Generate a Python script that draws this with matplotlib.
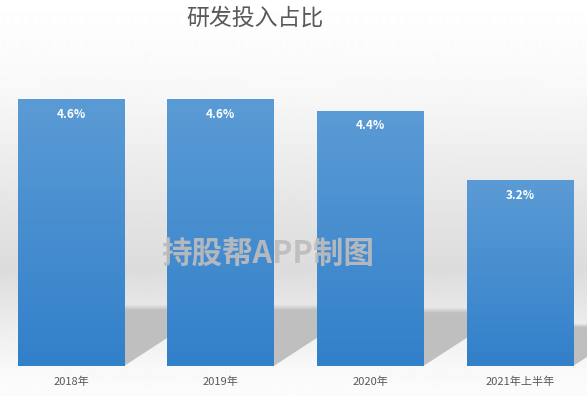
import numpy as np
import matplotlib
matplotlib.use('Agg')
import matplotlib.pyplot as plt
from matplotlib.patches import Polygon

categories = ['2018年', '2019年', '2020年', '2021年上半年']
values = [4.6, 4.6, 4.4, 3.2]
labels = ['4.6%', '4.6%', '4.4%', '3.2%']
title = '研发投入占比'
watermark = '持股帮APP制图'

plt.rcParams['font.family'] = ['Noto Sans CJK SC', 'DejaVu Sans']

W, H = 587, 396
fig = plt.figure(figsize=(W / 100, H / 100), dpi=100)

# background gradient
bg = fig.add_axes([0, 0, 1, 1], zorder=0)
bg.set_axis_off()
ys = np.array([0, 90, 200, 270, 330, 366, 396])
vs = np.array([255, 248, 230, 220, 238, 248, 252]) / 255
col = np.interp(np.arange(H), ys, vs)
img = np.repeat(col[:, None], 2, axis=1)
bg.imshow(img, cmap='gray', vmin=0, vmax=1, aspect='auto', extent=[0, 1, 0, 1],
          interpolation='bilinear')
bg.set_xlim(0, 1)
bg.set_ylim(0, 1)

ax = fig.add_axes([0, 30 / H, 1, 290 / H], zorder=1)
ax.patch.set_alpha(0)
xlim = (-0.474, 3.448)
ylim = (0, 5)
x = np.arange(len(categories))
bw = 0.71

px_per_x = W / (xlim[1] - xlim[0])
px_per_y = 290 / (ylim[1] - ylim[0])

# shadows
for xi, v in zip(x, values):
    s = 0.23 * v
    dx = 0.353 * v * px_per_y / px_per_x
    poly = Polygon([(xi - bw / 2, 0), (xi + bw / 2, 0), (xi + bw / 2 + dx, s),
                    (xi - bw / 2 + dx, s)], closed=True, facecolor='none',
                   edgecolor='none', zorder=2)
    ax.add_patch(poly)
    n = 64
    a = np.ones(n)
    ramp = int(n * 0.12)
    a[-ramp:] = np.linspace(1, 0, ramp)
    rgba = np.zeros((n, 2, 4))
    rgba[..., :3] = 191 / 255
    rgba[..., 3] = a[::-1][:, None]
    im = ax.imshow(rgba, extent=[xi - bw / 2, xi + bw / 2 + dx, 0, s], aspect='auto',
                   zorder=2, interpolation='bilinear')
    im.set_clip_path(poly)

# bars with gradient
bars = ax.bar(x, values, width=bw, color='none', edgecolor='none', zorder=3)
top = np.array([91, 155, 213]) / 255
bot = np.array([50, 128, 202]) / 255
for b, v in zip(bars, values):
    n = 100
    t = np.linspace(0, 1, n)[:, None]
    grad = top * (1 - t) + bot * t
    grad = np.repeat(grad[:, None, :], 2, axis=1)
    im = ax.imshow(grad, extent=[b.get_x(), b.get_x() + b.get_width(), 0, v],
                   aspect='auto', zorder=3, interpolation='bilinear')
    im.set_clip_path(b)

for xi, v, lab in zip(x, values, labels):
    ax.text(xi, v - 15 / px_per_y, lab, ha='center', va='center', color='white',
            fontsize=8.5, fontweight='bold', zorder=5)

ax.set_xlim(*xlim)
ax.set_ylim(*ylim)
ax.set_xticks(x)
ax.set_xticklabels(categories, fontsize=8, color='#595959')
ax.tick_params(axis='x', length=0, pad=7.5)
ax.set_yticks([])
for sp in ax.spines.values():
    sp.set_visible(False)

fig.text(255 / W, 1 - 18 / H, title, ha='center', va='center', fontsize=16.5,
         color='#595959')
fig.text(268 / W, 1 - 255 / H, watermark, ha='center', va='center', fontsize=22,
         fontweight='bold', color='#bdbdbd', alpha=0.92, zorder=10)

fig.savefig('out.png', dpi=100)
